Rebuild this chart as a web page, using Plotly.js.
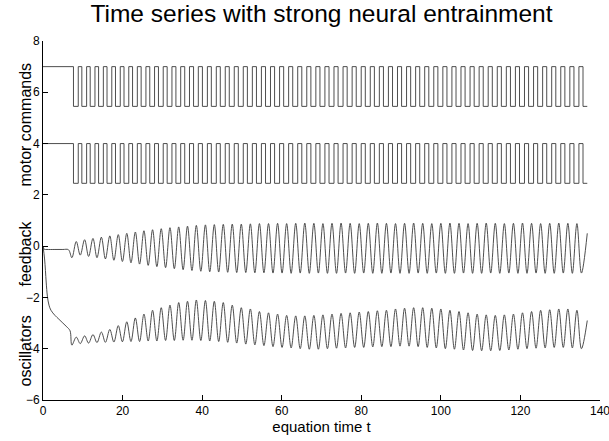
<!DOCTYPE html>
<html>
<head>
<meta charset="utf-8">
<script src="https://cdn.plot.ly/plotly-3.0.1.min.js"></script>
<style>html,body{margin:0;padding:0;background:#fff;}#chart{width:609px;height:441px;}</style>
</head>
<body>
<div id="chart"></div>
<script>
// ---- motor commands (square waves): switching times ----
const motorFall = [7.66, 9.76, 11.86, 13.97, 16.09, 18.22, 20.36, 22.51, 24.67, 26.84, 29.02, 31.21, 33.41, 35.62, 37.84, 40.07, 42.31, 44.56, 46.82, 49.09, 51.37, 53.65, 55.93, 58.21, 60.49, 62.77, 65.05, 67.33, 69.61, 71.89, 74.17, 76.45, 78.73, 81.01, 83.29, 85.57, 87.85, 90.13, 92.41, 94.69, 96.97, 99.25, 101.53, 103.81, 106.09, 108.37, 110.65, 112.93, 115.21, 117.49, 119.77, 122.05, 124.33, 126.61, 128.89, 131.17, 133.45, 135.73];
const motorRise = [8.86, 10.96, 13.06, 15.17, 17.29, 19.42, 21.56, 23.71, 25.87, 28.04, 30.22, 32.41, 34.61, 36.82, 39.04, 41.32, 43.56, 45.81, 48.07, 50.34, 52.62, 54.90, 57.18, 59.46, 61.74, 64.02, 66.30, 68.58, 70.86, 73.14, 75.42, 77.70, 79.98, 82.26, 84.54, 86.82, 89.10, 91.38, 93.66, 95.94, 98.22, 100.50, 102.78, 105.06, 107.34, 109.62, 111.90, 114.18, 116.46, 118.74, 121.02, 123.30, 125.58, 127.86, 130.14, 132.42, 134.70];
const motorEnd = 136.8;
const motorUpperLevels = [7, 5.45];
const motorLowerLevels = [4, 2.45];

// ---- feedback / oscillators: initial transient then extrema (trough, peak, trough, ...) ----
const fbStartT = [0, 0.3, 1.0, 3.0, 5.0, 6.4];
const fbStartV = [0, -0.12, -0.13, -0.13, -0.13, -0.14];
const oscStartT = [0, 0.4, 0.8, 1.1, 1.5, 2.0, 3.0, 4.0, 5.0, 6.0, 6.8];
const oscStartV = [0, -0.5, -1.4, -1.95, -2.3, -2.5, -2.7, -2.85, -3.0, -3.15, -3.3];

const extTimes = [7.26, 8.36, 9.36, 10.46, 11.46, 12.56, 13.57, 14.67, 15.69, 16.79, 17.82, 18.92, 19.96, 21.06, 22.11, 23.21, 24.27, 25.37, 26.44, 27.54, 28.62, 29.72, 30.81, 31.91, 33.01, 34.11, 35.22, 36.32, 37.44, 38.54, 39.67, 40.82, 41.91, 43.06, 44.16, 45.31, 46.42, 47.57, 48.69, 49.84, 50.97, 52.12, 53.25, 54.40, 55.53, 56.68, 57.81, 58.96, 60.09, 61.24, 62.37, 63.52, 64.65, 65.80, 66.93, 68.08, 69.21, 70.36, 71.49, 72.64, 73.77, 74.92, 76.05, 77.20, 78.33, 79.48, 80.61, 81.76, 82.89, 84.04, 85.17, 86.32, 87.45, 88.60, 89.73, 90.88, 92.01, 93.16, 94.29, 95.44, 96.57, 97.72, 98.85, 100.00, 101.13, 102.28, 103.41, 104.56, 105.69, 106.84, 107.97, 109.12, 110.25, 111.40, 112.53, 113.68, 114.81, 115.96, 117.09, 118.24, 119.37, 120.52, 121.65, 122.80, 123.93, 125.08, 126.21, 127.36, 128.49, 129.64, 130.77, 131.92, 133.05, 134.20, 135.33];

const feedbackExt = [-0.45,
  0.18, -0.35, 0.25, -0.40, 0.30, -0.45, 0.35, -0.50, 0.40, -0.55,
  0.45, -0.60, 0.50, -0.65, 0.55, -0.70, 0.60, -0.75, 0.64, -0.80,
  0.68, -0.84, 0.72, -0.88, 0.75, -0.92, 0.78, -0.95, 0.81, -0.98,
  0.83, -1.00, 0.84, -1.01, 0.85, -1.02, 0.86, -1.03, 0.86, -1.03,
  0.87, -1.04, 0.88, -1.04, 0.88, -1.05, 0.89, -1.05, 0.88, -1.06,
  0.89, -1.05, 0.90, -1.06, 0.89, -1.05, 0.88, -1.06, 0.89, -1.06,
  0.90, -1.05, 0.89, -1.06, 0.88, -1.05, 0.89, -1.06, 0.90, -1.06,
  0.89, -1.05, 0.88, -1.06, 0.89, -1.06, 0.90, -1.05, 0.89, -1.06,
  0.88, -1.05, 0.89, -1.06, 0.90, -1.06, 0.89, -1.05, 0.88, -1.06,
  0.89, -1.06, 0.90, -1.05, 0.89, -1.06, 0.88, -1.05, 0.89, -1.06,
  0.90, -1.06, 0.89, -1.05, 0.88, -1.06, 0.89, -1.06, 0.90, -1.05,
  0.89, -1.06, 0.88, -1.05];
const feedbackEnd = 0.5;

const oscExt = [-3.86,
  -3.55, -3.80, -3.50, -3.78, -3.45, -3.76, -3.35, -3.75, -3.25, -3.74,
  -3.10, -3.73, -2.95, -3.72, -2.80, -3.72, -2.65, -3.70, -2.50, -3.70,
  -2.40, -3.68, -2.30, -3.68, -2.20, -3.67, -2.15, -3.67, -2.10, -3.68,
  -2.12, -3.70, -2.15, -3.72, -2.20, -3.75, -2.30, -3.78, -2.40, -3.82,
  -2.45, -3.85, -2.55, -3.88, -2.60, -3.92, -2.65, -3.95, -2.70, -3.97,
  -2.72, -4.00, -2.72, -4.02, -2.70, -4.02, -2.68, -4.00, -2.65, -3.98,
  -2.62, -3.97, -2.60, -3.95, -2.57, -3.95, -2.55, -3.93, -2.52, -3.92,
  -2.50, -3.92, -2.45, -3.90, -2.42, -3.90, -2.40, -3.92, -2.40, -3.95,
  -2.42, -3.97, -2.45, -4.00, -2.50, -4.02, -2.55, -4.05, -2.60, -4.07,
  -2.65, -4.08, -2.68, -4.08, -2.70, -4.07, -2.68, -4.05, -2.65, -4.02,
  -2.60, -4.00, -2.55, -3.98, -2.50, -3.97, -2.48, -3.95, -2.45, -3.95,
  -2.45, -3.97, -2.50, -4.00];
const oscEnd = -2.9;

const xTickVals = [0, 20, 40, 60, 80, 100, 120, 140];
const yTickVals = [-6, -4, -2, 0, 2, 4, 6, 8];
const rowLabels = ["motor commands", "feedback", "oscillators"];
const rowLabelY = [4.75, -0.28, -4.1];

// ---- build traces ----
function squareWave(levels) {
  const x = [0], y = [levels[0]];
  for (let i = 0; i < motorFall.length; i++) {
    x.push(motorFall[i]); y.push(levels[1]);
    if (i < motorRise.length) { x.push(motorRise[i]); y.push(levels[0]); }
  }
  x.push(motorEnd); y.push(levels[1]);
  return {x, y};
}
const up = squareWave(motorUpperLevels);
const lo = squareWave(motorLowerLevels);
const lineStyle = {color: '#3a3a3a', width: 0.9};

const traces = [
  {x: up.x, y: up.y, mode: 'lines', line: Object.assign({shape: 'hv'}, lineStyle), hoverinfo: 'skip'},
  {x: lo.x, y: lo.y, mode: 'lines', line: Object.assign({shape: 'hv'}, lineStyle), hoverinfo: 'skip'},
  {x: fbStartT.concat(extTimes, [motorEnd]), y: fbStartV.concat(feedbackExt, [feedbackEnd]),
   mode: 'lines', line: Object.assign({shape: 'spline', smoothing: 1}, lineStyle), hoverinfo: 'skip'},
  {x: oscStartT.concat(extTimes, [motorEnd]), y: oscStartV.concat(oscExt, [oscEnd]),
   mode: 'lines', line: Object.assign({shape: 'spline', smoothing: 1}, lineStyle), hoverinfo: 'skip'}
];

const font = 'Liberation Sans, Arial, Helvetica, sans-serif';
const layout = {
  width: 609, height: 441,
  margin: {l: 43, r: 9, t: 41, b: 41},
  paper_bgcolor: '#fff', plot_bgcolor: '#fff',
  showlegend: false,
  font: {family: font, color: '#000', size: 11},
  title: {text: 'Time series with strong neural entrainment', font: {family: font, size: 24.5, color: '#000'},
          xref: 'paper', x: 0.5, xanchor: 'center', yref: 'container', y: 0.988, yanchor: 'top'},
  xaxis: {range: [0, 140], tickvals: xTickVals, ticks: 'inside', ticklen: 5, tickcolor: '#000',
          showline: true, linecolor: '#000', linewidth: 1, mirror: false, showgrid: false, zeroline: false,
          ticklabeloverflow: 'allow', automargin: false,
          tickfont: {size: 12}, title: {text: 'equation time t', font: {size: 15}, standoff: 2}},
  yaxis: {range: [-6, 8], tickvals: yTickVals, ticks: 'inside', ticklen: 5, tickcolor: '#000',
          showline: true, linecolor: '#000', linewidth: 1, mirror: false, showgrid: false, zeroline: false,
          ticklabeloverflow: 'allow', automargin: false,
          tickfont: {size: 12}},
  annotations: rowLabels.map((t, i) => ({text: t, xref: 'paper', yref: 'y', x: -0.032, y: rowLabelY[i],
          xanchor: 'center', yanchor: 'middle', textangle: -90, showarrow: false, font: {size: 16}}))
};
Plotly.newPlot('chart', traces, layout, {displayModeBar: false, staticPlot: true});
</script>
</body>
</html>
